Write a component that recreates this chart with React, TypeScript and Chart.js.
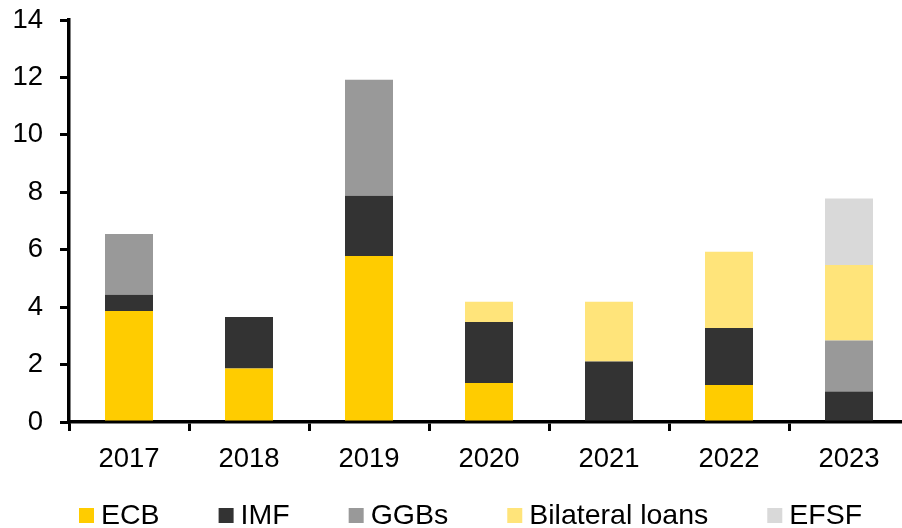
import React, { useEffect, useRef } from "react";
import { Chart, registerables } from "chart.js";

Chart.register(...registerables);

const years = ["2017", "2018", "2019", "2020", "2021", "2022", "2023"];
const ecb = [3.87, 1.86, 5.78, 1.36, 0, 1.29, 0];
const imf = [0.56, 1.8, 2.1, 2.12, 2.11, 1.98, 1.06];
const ggbs = [2.12, 0, 4.04, 0, 0, 0, 1.78];
const bilateral = [0, 0, 0, 0.71, 2.08, 2.66, 2.63];
const efsf = [0, 0, 0, 0, 0, 0, 2.31];
const seriesNames = ["ECB", "IMF", "GGBs", "Bilateral loans", "EFSF"];
const seriesColors = ["#FFCC00", "#333333", "#999999", "#FFE47A", "#D9D9D9"];
const yTicks = [0, 2, 4, 6, 8, 10, 12, 14];

const FONT = "'Liberation Sans', Arial, sans-serif";

const legendPlugin = {
  id: "customLegend",
  afterDraw(chart: any) {
    const ctx = chart.ctx;
    ctx.save();
    ctx.font = `28.5px ${FONT}`;
    ctx.textBaseline = "alphabetic";
    ctx.textAlign = "left";
    let x = 79;
    const boxY = 508;
    const box = 15;
    chart.data.datasets.forEach((ds: any) => {
      ctx.fillStyle = ds.backgroundColor;
      ctx.fillRect(x, boxY, box, box);
      x += box + 7;
      ctx.fillStyle = "#000";
      ctx.fillText(ds.label, x, 524);
      x += ctx.measureText(ds.label).width + 59;
    });
    ctx.restore();
  },
};

export default function App() {
  const ref = useRef<HTMLCanvasElement>(null);
  useEffect(() => {
    document.body.style.margin = "0";
    const data = [ecb, imf, ggbs, bilateral, efsf];
    const chart = new Chart(ref.current!, {
      type: "bar",
      data: {
        labels: years,
        datasets: data.map((d, i) => ({
          label: seriesNames[i],
          data: d,
          backgroundColor: seriesColors[i],
          borderWidth: 0,
          barPercentage: 0.4,
          categoryPercentage: 1,
        })),
      },
      options: {
        responsive: false,
        animation: false,
        devicePixelRatio: 1,
        layout: { padding: { top: 20, bottom: 48, left: 0, right: 0 } },
        plugins: { legend: { display: false }, tooltip: { enabled: false } },
        scales: {
          x: {
            stacked: true,
            afterFit: (s: any) => {
              s.height = 58;
              s.paddingLeft = 0;
              s.paddingRight = 0;
            },
            grid: {
              display: true,
              drawOnChartArea: false,
              drawTicks: true,
              tickLength: 9,
              color: "#000",
              lineWidth: 3,
              offset: true,
            },
            border: { display: true, color: "#000", width: 3.5 },
            ticks: {
              color: "#000",
              font: { family: FONT, size: 27.5 },
              padding: 12,
              maxRotation: 0,
            },
          },
          y: {
            stacked: true,
            min: 0,
            max: 14,
            afterFit: (s: any) => {
              s.width = 69;
              s.paddingTop = 0;
              s.paddingBottom = 0;
            },
            afterBuildTicks: (s: any) => {
              s.ticks = yTicks.map((v) => ({ value: v }));
            },
            grid: {
              display: true,
              drawOnChartArea: false,
              drawTicks: true,
              tickLength: 9,
              color: "#000",
              lineWidth: 3,
            },
            border: { display: true, color: "#000", width: 3.5 },
            ticks: {
              color: "#000",
              font: { family: FONT, size: 27.5 },
              padding: 17,
            },
          },
        },
      },
      plugins: [legendPlugin],
    });
    return () => chart.destroy();
  }, []);
  return (
    <div style={{ width: 902, height: 528, overflow: "hidden" }}>
      <canvas ref={ref} width={909} height={528} style={{ width: 909, height: 528, display: "block" }} />
    </div>
  );
}
